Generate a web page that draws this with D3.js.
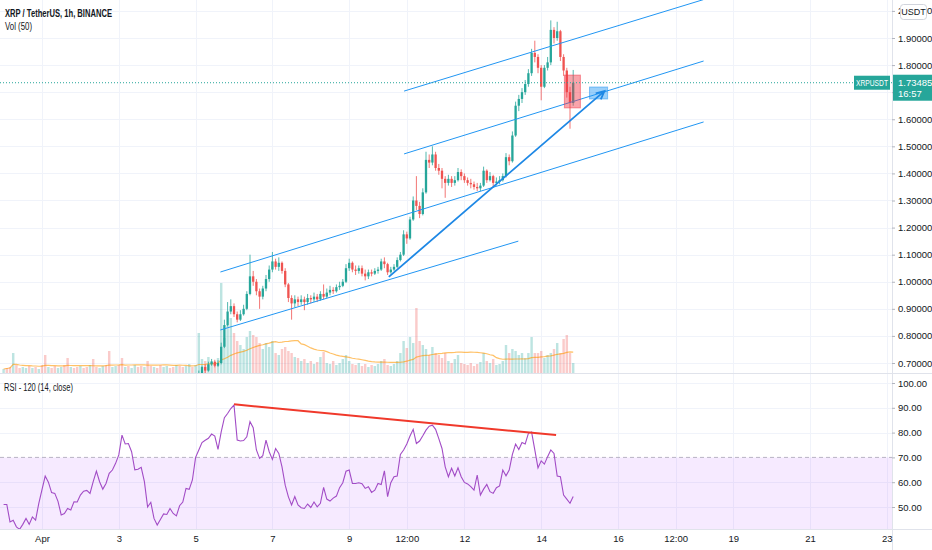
<!DOCTYPE html>
<html>
<head>
<meta charset="utf-8">
<script src="https://cdn.jsdelivr.net/npm/d3@7"></script>
<style>
  body { margin: 0; background: #fff; }
  svg { display: block; font-family: "Liberation Sans", Arial, sans-serif; }
</style>
</head>
<body>
<div id="chart"></div>
<script>
// ---- data (2h bars) ----
const barStart = Date.UTC(2021, 2, 31, 0);   // first volume / RSI bar
const barHours = 2;
const candleOffset = 61;                       // first visible candle index
const firstOpen = 0.640;

const closes = [0.660,0.685,0.672,0.695,0.705,0.690,0.700,0.760,0.840,0.890,
  0.910,0.880,0.860,0.880,0.900,0.955,1.020,1.000,0.965,0.945,
  0.975,1.010,1.045,1.075,1.055,1.070,1.040,0.990,0.940,0.920,
  0.935,0.925,0.935,0.925,0.940,0.935,0.945,0.935,0.955,0.945,
  0.960,0.970,0.965,0.980,0.985,1.000,1.050,1.070,1.045,1.040,
  1.050,1.030,1.020,1.035,1.030,1.040,1.045,1.075,1.065,1.035,
  1.045,1.055,1.080,1.100,1.175,1.160,1.230,1.300,1.280,1.250,
  1.330,1.450,1.440,1.470,1.420,1.410,1.380,1.365,1.380,1.365,
  1.375,1.405,1.390,1.375,1.365,1.360,1.350,1.345,1.355,1.410,
  1.375,1.390,1.365,1.370,1.375,1.390,1.460,1.445,1.540,1.650,
  1.675,1.700,1.730,1.770,1.845,1.830,1.790,1.720,1.790,1.810,
  1.930,1.900,1.925,1.830,1.780,1.700,1.660,1.73485];
const highs = [0.672,0.690,0.695,0.705,0.715,0.712,0.710,0.775,0.860,0.925,
  0.935,0.920,0.890,0.895,0.915,0.965,1.100,1.040,1.010,0.975,
  0.985,1.025,1.060,1.110,1.085,1.090,1.075,1.050,0.995,0.950,
  0.950,0.945,0.950,0.945,0.955,0.950,0.960,0.955,0.965,0.990,
  0.975,0.985,0.980,0.990,1.000,1.010,1.065,1.085,1.075,1.060,
  1.060,1.060,1.045,1.045,1.045,1.050,1.055,1.085,1.090,1.070,
  1.055,1.065,1.090,1.110,1.190,1.185,1.240,1.315,1.390,1.295,
  1.345,1.480,1.470,1.500,1.480,1.435,1.420,1.390,1.395,1.390,
  1.390,1.420,1.415,1.400,1.385,1.380,1.370,1.365,1.365,1.425,
  1.415,1.405,1.395,1.385,1.390,1.400,1.475,1.470,1.555,1.665,
  1.690,1.715,1.745,1.785,1.860,1.890,1.840,1.800,1.800,1.830,
  1.965,1.940,1.960,1.930,1.840,1.790,1.720,1.782];
const lows = [0.635,0.655,0.662,0.668,0.690,0.684,0.686,0.695,0.755,0.835,
  0.880,0.870,0.850,0.855,0.875,0.895,0.950,0.985,0.950,0.900,
  0.935,0.965,1.000,1.035,1.045,1.040,1.030,0.980,0.925,0.860,
  0.905,0.910,0.915,0.895,0.915,0.920,0.925,0.925,0.930,0.935,
  0.940,0.950,0.955,0.960,0.970,0.980,0.995,1.040,1.035,1.025,
  1.030,1.020,1.005,1.010,1.020,1.025,1.030,1.040,1.050,1.025,
  1.030,1.040,1.050,1.075,1.095,1.140,1.155,1.225,1.265,1.235,
  1.245,1.325,1.420,1.430,1.410,1.395,1.345,1.310,1.355,1.350,
  1.355,1.370,1.375,1.365,1.355,1.345,1.340,1.335,1.335,1.350,
  1.365,1.370,1.350,1.355,1.360,1.370,1.385,1.430,1.440,1.535,
  1.630,1.660,1.690,1.720,1.760,1.810,1.770,1.670,1.715,1.780,
  1.800,1.880,1.890,1.815,1.760,1.680,1.565,1.650];

const volumes = [4,5,6,20,8,5,6,5,7,5, 6,4,8,18,6,5,7,5,6,8,
  15,6,5,6,7,5,6,8,14,6, 5,7,8,22,6,7,8,15,6,7,
  5,8,6,7,6,12,7,6,5,8, 6,7,5,6,8,7,6,7,9,6, 8,
  40,14,12,16,12,10,15,
  90,35,48,55,40,32,28,24,36,42,38,36,30,24,30,26,32,20,18,24,26,22,20,16,
  15,12,14,10,12,9,11,16,21,10, 9,12,8,10,14,18,12,9,8,10, 7,9,6,8,7,9,12,14,8,7, 9,12,
  20,32,25,36,30,65,32,28,24,18,26,20,
  18,15,20,12,10,14,18,10,9,8, 10,7,9,11,20,12,10,14,8,9, 12,
  28,20,24,22,18,20,15,20,36,20,20,22,15,18,20,24,30,20,34,38,20,10];
// direction of the early bars whose candles sit below the visible range
const earlyVolDir = "uddudduudududdudduuddudduddudduudduudduduudduddudduuddudduudu";

const rsiValues = [51,51,44,44.7,42,41,43,45.4,43,46,
  44.7,51.5,57,62.5,60,55.8,55.5,52.3,46.8,47.4,
  49.4,48.8,52.1,52,54.8,56.4,56.7,55.5,60.2,64.5,
  60.2,57.2,59.5,63.6,64.9,67.6,71,79,75.4,75.6,
  72.3,65,65.2,66,60.2,50,51.9,45.4,42.7,45,
  47.2,47,49.4,47.4,46.4,50.5,52,57.5,57.1,60.9,
  70,73,76,76.9,77.7,79.4,78.6,73.2,80.3,86,
  87.7,89.7,91.1,77,76.6,76.8,78.3,84.4,82,73,
  69.6,70.7,77,72.3,69.2,73.6,71.6,66.2,58.8,54.1,
  50.8,54.2,50.8,49.7,49.4,51.2,49.8,52,50.1,51.5,
  57.9,53.2,52.4,53.6,54.4,57.8,59.8,64.4,64.9,59.5,
  59.5,59.8,59.4,57.5,58.2,55.9,56.8,59.5,59.1,64.6,
  54.2,59.8,62.2,62.5,71.2,73,75.4,78.6,81.3,75.6,
  76.6,78.7,81,82.6,83,81.3,77.6,73.6,66.2,62.2,
  65.6,62.5,65.8,62.2,59.9,59.3,58.2,56.8,62.9,54.8,
  57.2,59.1,56.2,55.5,57.8,58.5,64.9,62.6,64.9,71.2,
  75.4,73.2,76,75.4,79.7,80.2,73,65.8,68.6,67.3,
  70.3,73,71.6,62.5,62.2,54.8,53.2,51.5,54.2];

const priceTicks = [0.7,0.8,0.9,1.0,1.1,1.2,1.3,1.4,1.5,1.6,1.7,1.8,1.9,2.0];
const rsiTicks = [50,60,70,80,90,100];
const timeTicks = [[3,1,0],[3,3,0],[3,5,0],[3,7,0],[3,9,0],[3,10,12],[3,12,0],
  [3,14,0],[3,16,0],[3,17,12],[3,19,0],[3,21,0],[3,23,0]];
const timeLabels = ["Apr","3","5","7","9","12:00","12","14","16","12:00","19","21","23"];

const lastPrice = 1.73485;
const countdown = "16:57";

// drawings, in [month, day, hour, price] form
const channelLines = [
  [[3,5,15.5,1.036],[3,18,5.5,1.590]],
  [[3,5,15.5,0.822],[3,13,9.7,1.150]],
  [[3,10,10.3,1.704],[3,18,5.5,2.042]],
  [[3,10,10.3,1.472],[3,18,5.5,1.815]]
];
const arrowLine = [[3,10,0.75,1.018],[3,15,15.5,1.704]];
const boxes = [
  {from:[3,14,14.5], to:[3,15,0.5], top:1.763, bottom:1.642, color:"#f23645"},
  {from:[3,15,6.2], to:[3,15,17.5], top:1.719, bottom:1.675, color:"#2196f3"}
];
const rsiTrend = [[3,6,0,91.4],[3,14,9.3,79.0]];

// ---- layout ----
const W = 932, H = 550, plotW = 892;
const priceBottom = 373, rsiTop = 374, rsiBottom = 529;
const up = "#26a69a", down = "#ef5350";
const fs = 9.5;

const T = (m, d, h) => new Date(Date.UTC(2021, m, d) + h * 3600e3);
const barTime = i => new Date(barStart + i * barHours * 3600e3);

const x = d3.scaleUtc().domain([T(2,30,21.75), T(3,23,3.25)]).range([0, plotW]);
const y = d3.scaleLinear().domain([0.7, 1.9]).range([363, 38]);
const yVol = d3.scaleLinear().domain([0, 100]).range([priceBottom, priceBottom - 100]);
const yRsi = d3.scaleLinear().domain([50, 100]).range([507, 383]);
const barW = x(barTime(1)) - x(barTime(0));

const candles = closes.map((c, k) => ({
  t: barTime(k + candleOffset), o: k ? closes[k - 1] : firstOpen, h: highs[k], l: lows[k], c
}));
const volBars = volumes.map((v, i) => {
  const k = i - candleOffset;
  const isUp = k >= 0 ? candles[k].c >= candles[k].o : earlyVolDir[i] === "u";
  return {t: barTime(i), v, up: isUp};
});
const volMA = volumes.map((v, i) => ({t: barTime(i), v: d3.mean(volumes.slice(Math.max(0, i - 24), i + 1))}));

const svg = d3.select("#chart").append("svg").attr("width", W).attr("height", H);
const defs = svg.append("defs");
defs.append("clipPath").attr("id", "clipPrice").append("rect").attr("width", plotW).attr("height", priceBottom);
defs.append("clipPath").attr("id", "clipRsi").append("rect")
  .attr("y", rsiTop).attr("width", plotW).attr("height", rsiBottom - rsiTop);

const tickDates = timeTicks.map(d => T(d[0], d[1], d[2]));

// grid
const grid = svg.append("g").attr("stroke", "#f0f3fa").attr("shape-rendering", "crispEdges");
grid.selectAll(".vg").data(tickDates).join("line")
  .attr("x1", d => Math.round(x(d)) + 0.5).attr("x2", d => Math.round(x(d)) + 0.5)
  .attr("y1", 0).attr("y2", rsiBottom);
grid.selectAll(".pg").data(priceTicks).join("line").attr("class", "pg")
  .attr("x1", 0).attr("x2", plotW)
  .attr("y1", d => Math.round(y(d)) + 0.5).attr("y2", d => Math.round(y(d)) + 0.5);
grid.selectAll(".rg").data(rsiTicks.filter(d => d !== 70)).join("line").attr("class", "rg")
  .attr("x1", 0).attr("x2", plotW)
  .attr("y1", d => Math.round(yRsi(d)) + 0.5).attr("y2", d => Math.round(yRsi(d)) + 0.5);

// ---- price pane ----
const price = svg.append("g").attr("clip-path", "url(#clipPrice)");

price.append("g").selectAll("rect").data(volBars).join("rect")
  .attr("x", d => x(d.t) - barW * 0.38).attr("width", barW * 0.76)
  .attr("y", d => yVol(d.v)).attr("height", d => yVol(0) - yVol(d.v))
  .attr("fill", d => d.up ? up : down).attr("opacity", 0.3);

price.append("path").datum(volMA)
  .attr("d", d3.line().x(d => x(d.t)).y(d => yVol(d.v)))
  .attr("fill", "none").attr("stroke", "#ff9800").attr("stroke-opacity", 0.6).attr("stroke-width", 1.2);

const cg = price.append("g").selectAll("g").data(candles).join("g")
  .attr("fill", d => d.c >= d.o ? up : down).attr("stroke", d => d.c >= d.o ? up : down);
cg.append("line")
  .attr("x1", d => x(d.t)).attr("x2", d => x(d.t))
  .attr("y1", d => y(d.h)).attr("y2", d => y(d.l)).attr("stroke-width", 0.8);
cg.append("rect")
  .attr("x", d => x(d.t) - barW * 0.36).attr("width", barW * 0.72)
  .attr("y", d => y(Math.max(d.o, d.c)))
  .attr("height", d => Math.max(0.8, Math.abs(y(d.o) - y(d.c)))).attr("stroke", "none");

// drawings
const pt = p => [x(T(p[0], p[1], p[2])), y(p[3])];
price.append("g").selectAll("line").data(channelLines).join("line")
  .attr("x1", d => pt(d[0])[0]).attr("y1", d => pt(d[0])[1])
  .attr("x2", d => pt(d[1])[0]).attr("y2", d => pt(d[1])[1])
  .attr("stroke", "#2196f3").attr("stroke-width", 1);

price.append("g").selectAll("rect").data(boxes).join("rect")
  .attr("x", d => x(T(...d.from))).attr("width", d => x(T(...d.to)) - x(T(...d.from)))
  .attr("y", d => y(d.top)).attr("height", d => y(d.bottom) - y(d.top))
  .attr("fill", d => d.color).attr("fill-opacity", 0.45)
  .attr("stroke", d => d.color).attr("stroke-opacity", 0.5);

{
  const [a, b] = arrowLine.map(pt);
  const ang = Math.atan2(b[1] - a[1], b[0] - a[0]);
  const head = [ang - 0.45, ang + 0.45].map(t => [b[0] - 9 * Math.cos(t), b[1] - 9 * Math.sin(t)]);
  price.append("path")
    .attr("d", `M${a}L${b}M${head[0]}L${b}L${head[1]}`)
    .attr("fill", "none").attr("stroke", "#1e88e5").attr("stroke-width", 1.8);
}

price.append("line")
  .attr("x1", 0).attr("x2", plotW).attr("y1", y(lastPrice)).attr("y2", y(lastPrice))
  .attr("stroke", up).attr("stroke-dasharray", "1,2");

// ---- RSI pane ----
const rsi = svg.append("g").attr("clip-path", "url(#clipRsi)");
rsi.append("rect").attr("x", 0).attr("width", plotW)
  .attr("y", yRsi(70)).attr("height", yRsi(30) - yRsi(70))
  .attr("fill", "#9915ff").attr("fill-opacity", 0.09);
rsi.append("line").attr("x1", 0).attr("x2", plotW)
  .attr("y1", yRsi(70)).attr("y2", yRsi(70))
  .attr("stroke", "#b8b3c4").attr("stroke-dasharray", "4,3");
rsi.append("path").datum(rsiValues)
  .attr("d", d3.line().x((d, i) => x(barTime(i))).y(d => yRsi(d)))
  .attr("fill", "none").attr("stroke", "#a24cc6").attr("stroke-width", 1.1);
{
  const [a, b] = rsiTrend.map(p => [x(T(p[0], p[1], p[2])), yRsi(p[3])]);
  rsi.append("line").attr("x1", a[0]).attr("y1", a[1]).attr("x2", b[0]).attr("y2", b[1])
    .attr("stroke", "#f0392b").attr("stroke-width", 2);
}

// separators
const sep = svg.append("g").attr("stroke", "#e0e3eb").attr("shape-rendering", "crispEdges");
sep.append("line").attr("x1", 0).attr("x2", W).attr("y1", priceBottom + 0.5).attr("y2", priceBottom + 0.5);
sep.append("line").attr("x1", 0).attr("x2", W).attr("y1", rsiBottom + 0.5).attr("y2", rsiBottom + 0.5);
sep.append("line").attr("x1", plotW + 0.5).attr("x2", plotW + 0.5).attr("y1", 0).attr("y2", H);

// ---- axes ----
function styleAxis(g) {
  g.select(".domain").remove();
  g.selectAll(".tick line").attr("stroke", "#b2b5be");
  g.selectAll("text").attr("fill", "#131722").attr("font-size", fs).attr("font-family", null);
}
// the last-price box hides the tick label right under it
const hiddenByBox = d => Math.abs(y(d) - y(lastPrice)) < 13;
svg.append("g").attr("transform", `translate(${plotW},0)`)
  .call(d3.axisRight(y).tickValues(priceTicks)
    .tickFormat(d => hiddenByBox(d) ? "" : d3.format(".5f")(d)).tickSize(3).tickPadding(3))
  .call(styleAxis);
svg.append("g").attr("transform", `translate(${plotW},0)`)
  .call(d3.axisRight(yRsi).tickValues(rsiTicks).tickFormat(d3.format(".2f")).tickSize(3).tickPadding(3))
  .call(styleAxis);
svg.append("g").attr("transform", `translate(0,${rsiBottom + 1})`)
  .call(d3.axisBottom(x).tickValues(tickDates).tickFormat((d, i) => timeLabels[i]).tickSize(0).tickPadding(5))
  .call(styleAxis);

// currency badge on top of the price scale (covers most of the 2.00000 label)
svg.append("rect").attr("x", 900.5).attr("y", 4.5).attr("width", 26).attr("height", 15).attr("rx", 3)
  .attr("fill", "#fff").attr("stroke", "#d1d4dc");
svg.append("text").attr("x", 913.5).attr("y", 15).attr("text-anchor", "middle")
  .attr("font-size", 9).attr("fill", "#131722").text("USDT");

// last price labels
const ly = y(lastPrice);
svg.append("rect").attr("x", plotW + 1).attr("y", ly - 8).attr("width", W - plotW - 1).attr("height", 26).attr("fill", up);
svg.append("text").attr("x", plotW + 6).attr("y", ly + 3.5).attr("font-size", fs).attr("fill", "#fff").text(d3.format(".5f")(lastPrice));
svg.append("text").attr("x", plotW + 6).attr("y", ly + 14.5).attr("font-size", fs).attr("fill", "#fff").text(countdown);
svg.append("rect").attr("x", 854).attr("y", ly - 7).attr("width", 36).attr("height", 14).attr("fill", up);
svg.append("text").attr("x", 856).attr("y", ly + 3.5)
  .attr("font-size", 9).attr("textLength", 32).attr("lengthAdjust", "spacingAndGlyphs")
  .attr("fill", "#fff").text("XRPUSDT");

// legends
const legend = [
  {x: 5, y: 17, len: 107, text: "XRP / TetherUS, 1h, BINANCE", weight: "bold"},
  {x: 5, y: 30, len: 27, text: "Vol (50)", weight: "normal"},
  {x: 4, y: 391, len: 69, text: "RSI - 120 (14, close)", weight: "normal"}
];
svg.append("g").selectAll("text").data(legend).join("text")
  .attr("x", d => d.x).attr("y", d => d.y).attr("font-size", 10)
  .attr("font-weight", d => d.weight).attr("fill", "#131722")
  .attr("textLength", d => d.len).attr("lengthAdjust", "spacingAndGlyphs")
  .text(d => d.text);
</script>
</body>
</html>
